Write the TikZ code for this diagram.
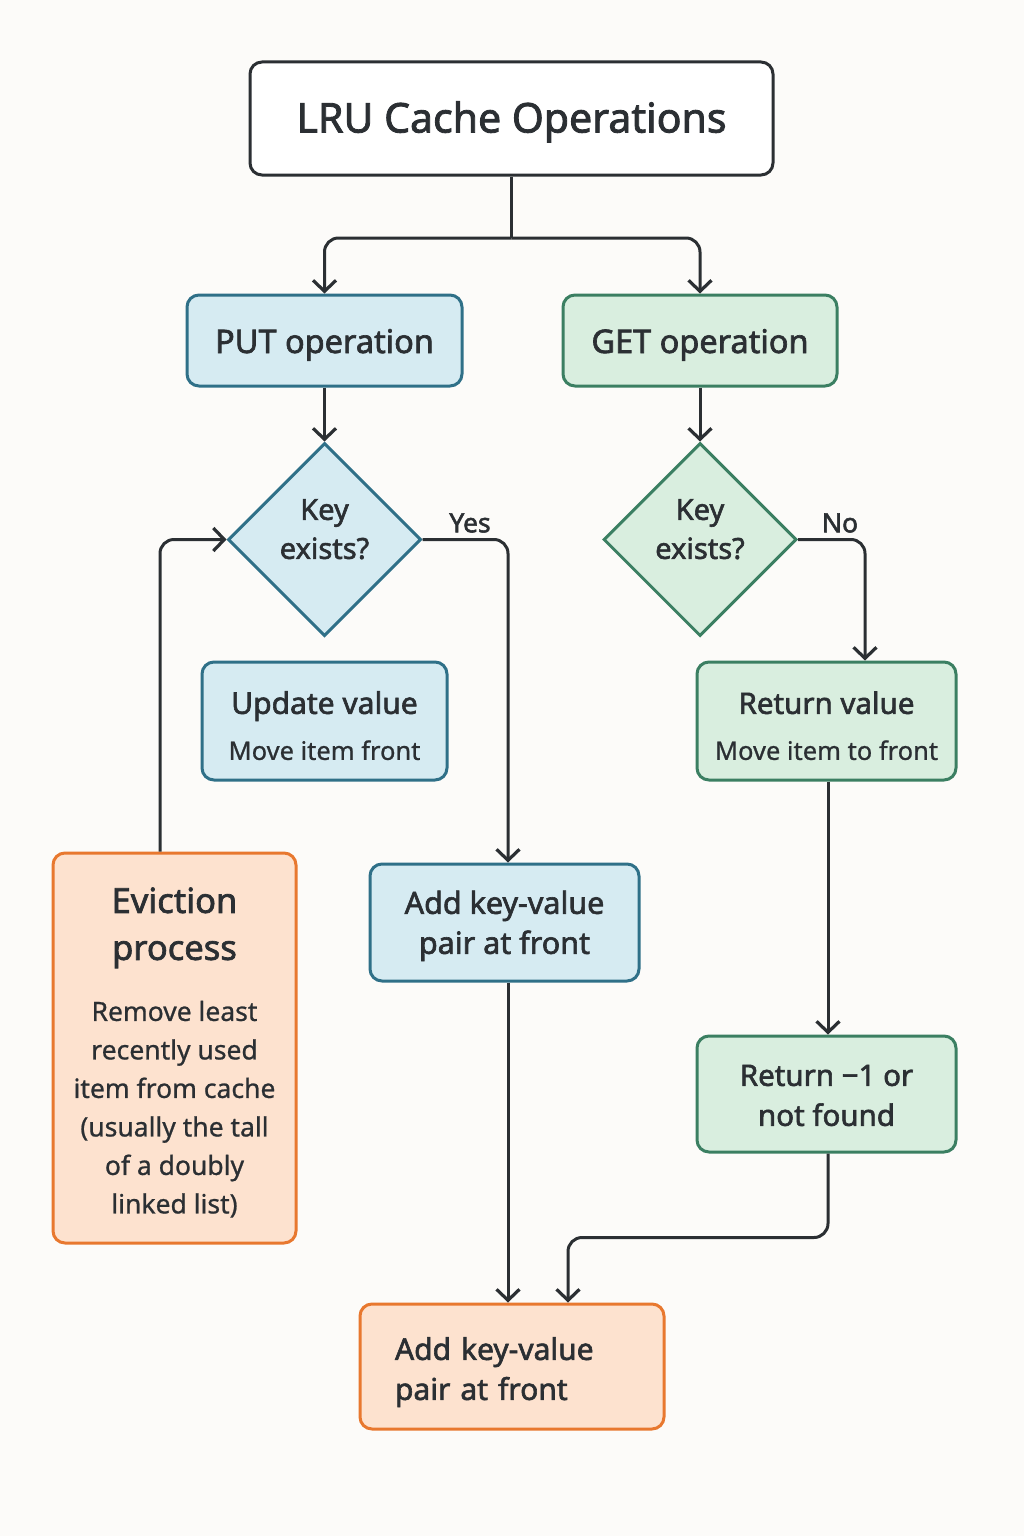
\documentclass[tikz,border=0pt]{standalone}
\usepackage{fontspec}
\setmainfont{Noto Sans}[FakeBold=0.8]
\newfontfamily\hd{Noto Sans}[FakeBold=2]
\usetikzlibrary{arrows.meta,shapes.geometric,calc}
\definecolor{bgc}{HTML}{FCFBF9}
\definecolor{ink}{HTML}{2B2F33}
\definecolor{bluef}{HTML}{D6EBF2}
\definecolor{bluel}{HTML}{2F7088}
\definecolor{greenf}{HTML}{D9EEDF}
\definecolor{greenl}{HTML}{3B7F62}
\definecolor{orangef}{HTML}{FDE2CF}
\definecolor{orangel}{HTML}{E8782F}
\begin{document}
\begin{tikzpicture}[x=1pt,y=-1pt,
  box/.style={draw, rounded corners=12pt, line width=3pt, inner sep=0pt, align=center, text=ink},
  bluebox/.style={box, fill=bluef, draw=bluel},
  greenbox/.style={box, fill=greenf, draw=greenl},
  orangebox/.style={box, fill=orangef, draw=orangel},
  dec/.style={diamond, draw, line width=3pt, inner sep=0pt, minimum width=193pt, minimum height=193pt, align=center, text=ink,
     font=\hd\fontsize{29}{39}\selectfont},
  conn/.style={draw=ink, line width=3pt, rounded corners=14pt},
  arr/.style={conn, -{Straight Barb[length=11pt,width=23pt,line width=3.2pt]}},
  lbl/.style={text=ink, font=\hd\fontsize{26.5}{30}\selectfont}
]
\fill[bgc] (0,0) rectangle (1024,1536);
\useasboundingbox (0,0) rectangle (1024,1536);

\node[box, fill=white, draw=ink, minimum width=523pt, minimum height=113pt,
  font=\hd\fontsize{41}{48}\selectfont] (title) at (511.5,118.5) {\raisebox{-14pt}[0pt][0pt]{LRU Cache Operations}};

\node[bluebox, minimum width=275pt, minimum height=91pt, font=\hd\fontsize{32.5}{36}\selectfont]
  (put) at (324.5,340.5) {\raisebox{-12.5pt}[0pt][0pt]{PUT operation}};
\node[greenbox, minimum width=274pt, minimum height=91pt, font=\hd\fontsize{32.5}{36}\selectfont]
  (get) at (700,340.5) {\raisebox{-12.5pt}[0pt][0pt]{GET operation}};

\node[dec, fill=bluef, draw=bluel] (d1) at (324.5,539.5) {Key\\exists?\\[-18pt]\mbox{}};
\node[dec, fill=greenf, draw=greenl] (d2) at (700,539.5) {Key\\exists?\\[-18pt]\mbox{}};

\node[bluebox, minimum width=245pt, minimum height=118pt, font=\fontsize{25.5}{46}\selectfont]
  (upd) at (324.5,721) {\\[-14pt]{\hd\fontsize{30}{46}\selectfont Update value}\\Move item front};
\node[greenbox, minimum width=259pt, minimum height=118pt, font=\fontsize{25.5}{46}\selectfont]
  (ret) at (826.5,721) {\\[-14pt]{\hd\fontsize{29.5}{46}\selectfont Return value}\\Move item to front};

\node[orangebox, minimum width=243pt, minimum height=390pt, font=\fontsize{26.5}{38.5}\selectfont]
  (ev) at (174.5,1048) {\\[-4pt]{\hd\fontsize{34.5}{38.5}\selectfont Eviction}\\[8.5pt]{\hd\fontsize{34.5}{38.5}\selectfont process}\\[22.5pt]Remove least\\recently used\\item from cache\\(usually the tall\\of a doubly\\linked list)};

\node[bluebox, minimum width=269pt, minimum height=117pt, font=\hd\fontsize{30.5}{40}\selectfont]
  (add1) at (504.5,922.5) {\\[-10pt]Add key-value\\pair at front};

\node[greenbox, minimum width=259pt, minimum height=116pt, font=\hd\fontsize{29.5}{40}\selectfont]
  (ret2) at (826.5,1094) {\\[-16pt]Return −1 or\\not found};

\node[orangebox, minimum width=304pt, minimum height=125pt, align=left, text width=234pt, inner xsep=35pt,
  font=\hd\fontsize{30}{40}\selectfont]
  (fin) at (512,1366.5) {\\[-6pt]Add key-value\\pair at front};

% connectors
\coordinate (split) at (511.5,238);
\draw[conn] (title.south) -- (split);
\draw[arr] (split) -| (put.north);
\draw[arr] (split) -| (get.north);
\draw[arr] (put.south) -- (d1.north);
\draw[arr] (get.south) -- (d2.north);
\draw[arr] (d1.east) -| ([xshift=3.5pt]add1.north);
\draw[arr] (d2.east) -| ([xshift=38.5pt]ret.north);
\draw[arr] ([xshift=-14.5pt]ev.north) |- (d1.west);
\draw[arr] ([xshift=1.5pt]ret.south) -- ([xshift=1.5pt]ret2.north);
\draw[arr] ([xshift=3.5pt]add1.south) -- ([xshift=-4pt]fin.north);
\draw[arr] ([xshift=1.5pt]ret2.south) -- ++(0,84) -| ([xshift=56pt]fin.north);

\node[lbl] (yes) at (470,523) {Yes};
\node[lbl] (no) at (840,523) {No};
\end{tikzpicture}
\end{document}
